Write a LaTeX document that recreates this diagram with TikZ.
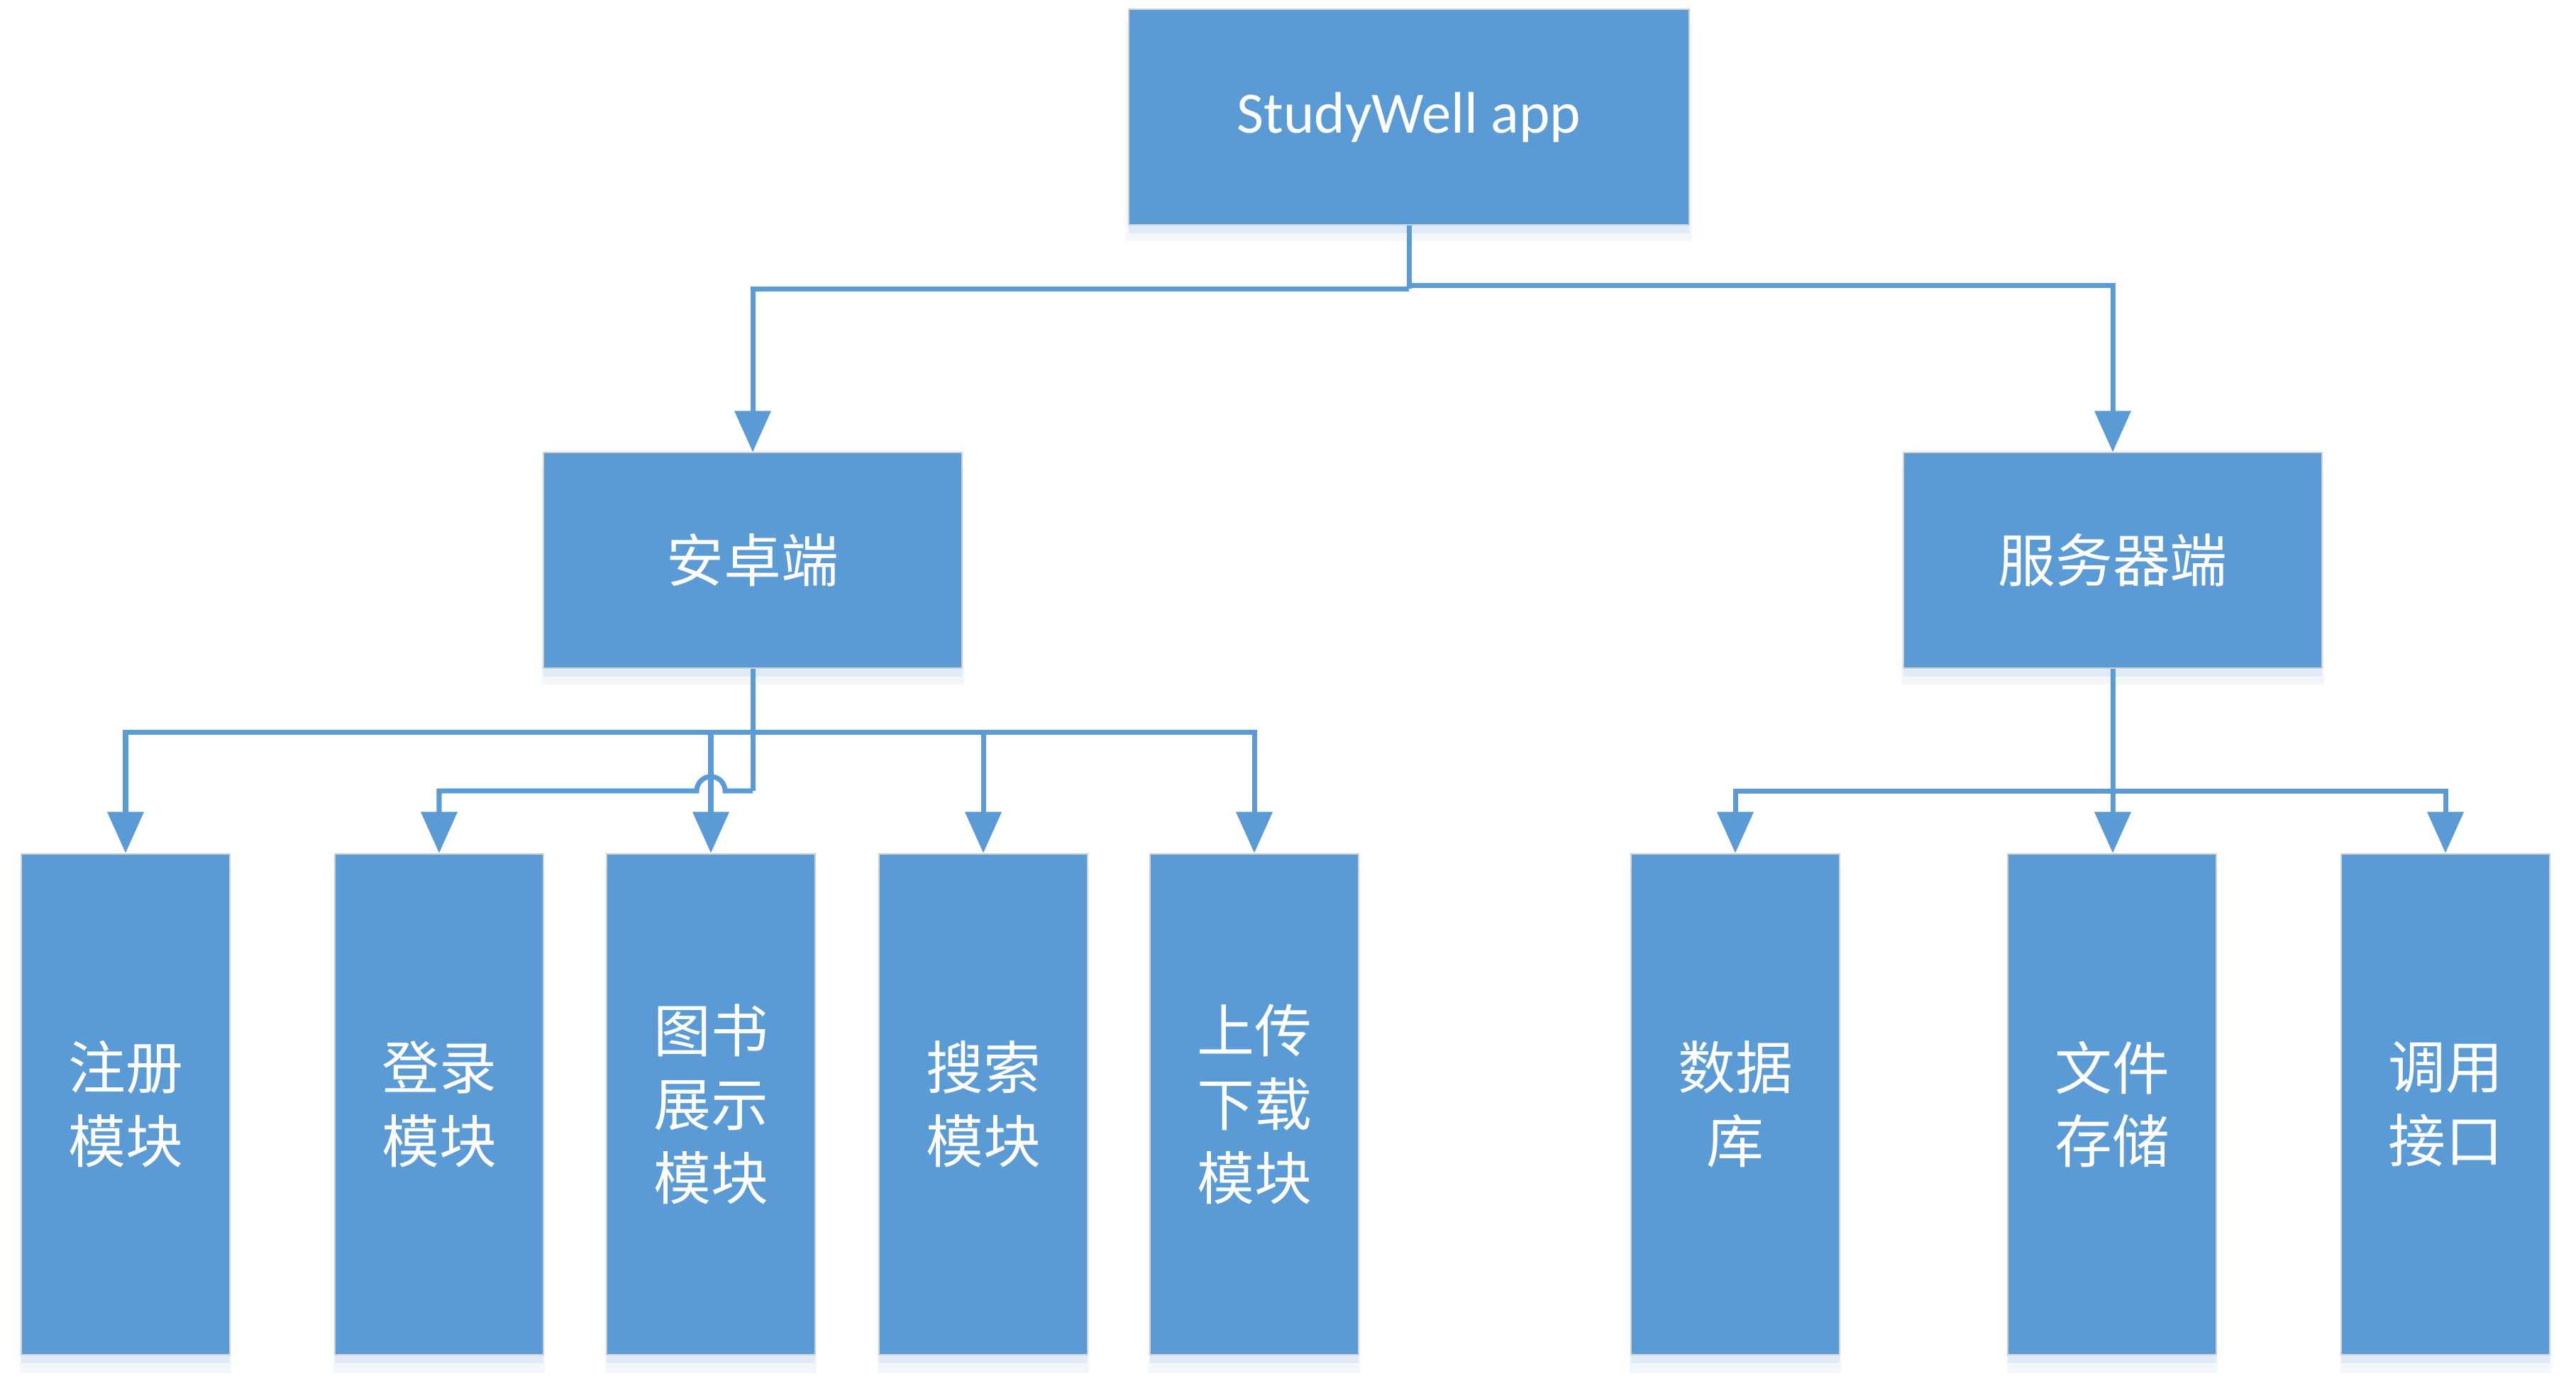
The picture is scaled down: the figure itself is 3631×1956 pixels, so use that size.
\documentclass[tikz,border=0pt]{standalone}
\usepackage{fontspec}
\setmainfont{Carlito}
\newfontfamily\cjk{Noto Sans CJK SC}
\usetikzlibrary{arrows.meta,shadows}
\definecolor{boxblue}{HTML}{5B9BD5}
\tikzset{
  box/.style={rectangle, fill=boxblue, draw=black!18, line width=0.6pt, text=white,
    align=center, inner sep=0pt,
    drop shadow={shadow xshift=0cm, shadow yshift=-0.22cm, shadow scale=1.01, fill=boxblue, opacity=0.08},
    drop shadow={shadow xshift=0cm, shadow yshift=-0.12cm, shadow scale=1.0, fill=boxblue, opacity=0.12}},
  topbox/.style={box, minimum width=7.9cm, minimum height=3.03cm, font=\fontsize{23.5pt}{28pt}\selectfont},
  midbox/.style={box, minimum width=5.89cm, minimum height=3.03cm, font=\cjk\fontsize{23pt}{29.5pt}\selectfont},
  leafbox/.style={box, minimum width=2.94cm, minimum height=7.06cm, font=\cjk\fontsize{23pt}{29.5pt}\selectfont},
  conn/.style={draw=boxblue, line width=2pt},
  arr/.style={conn, -{Triangle[width=0.5cm,length=0.58cm]}}
}
\begin{document}
\begin{tikzpicture}[x=0.01cm,y=-0.01cm]
\useasboundingbox (0,0) rectangle (3631,1956);
% nodes
\node[topbox] (top) at (1986,165) {StudyWell app};
\node[midbox] (android) at (1061,790) {安卓端};
\node[midbox] (server) at (2978,790) {服务器端};
\node[leafbox] (reg) at (177,1557) {注册\\模块};
\node[leafbox] (login) at (619,1557) {登录\\模块};
\node[leafbox] (book) at (1002,1557) {图书\\展示\\模块};
\node[leafbox] (search) at (1386,1557) {搜索\\模块};
\node[leafbox] (updown) at (1768,1557) {上传\\下载\\模块};
\node[leafbox] (db) at (2446,1557) {数据\\库};
\node[leafbox] (fs) at (2977,1557) {文件\\存储};
\node[leafbox] (api) at (3447,1557) {调用\\接口};
% top connectors
\draw[conn] (top.south) -- (top.south |- 0,407);
\draw[arr] (top.south |- 0,407) -| (android.north);
\draw[arr] (top.south |- 0,402) -| (server.north);
% android bus
\draw[conn] (android.south) -- (android.south |- 0,1115) coordinate (aj);
\draw[arr] (android.south |- 0,1032) -| (reg.north);
\draw[arr] (android.south |- 0,1032) -| (updown.north);
\draw[arr] (book.north |- 0,1032) -- (book.north);
\draw[arr] (search.north |- 0,1032) -- (search.north);
\draw[arr] (aj) -- ([xshift=0.2cm]book.north |- aj) arc[start angle=0, end angle=180, radius=0.2cm]
  -- (login.north |- aj) -- (login.north);
% server bus
\draw[arr] (server.south) -- (server.south |- fs.north);
\draw[arr] (server.south |- 0,1115) -| (db.north);
\draw[arr] (server.south |- 0,1115) -| (api.north);
\end{tikzpicture}
\end{document}
